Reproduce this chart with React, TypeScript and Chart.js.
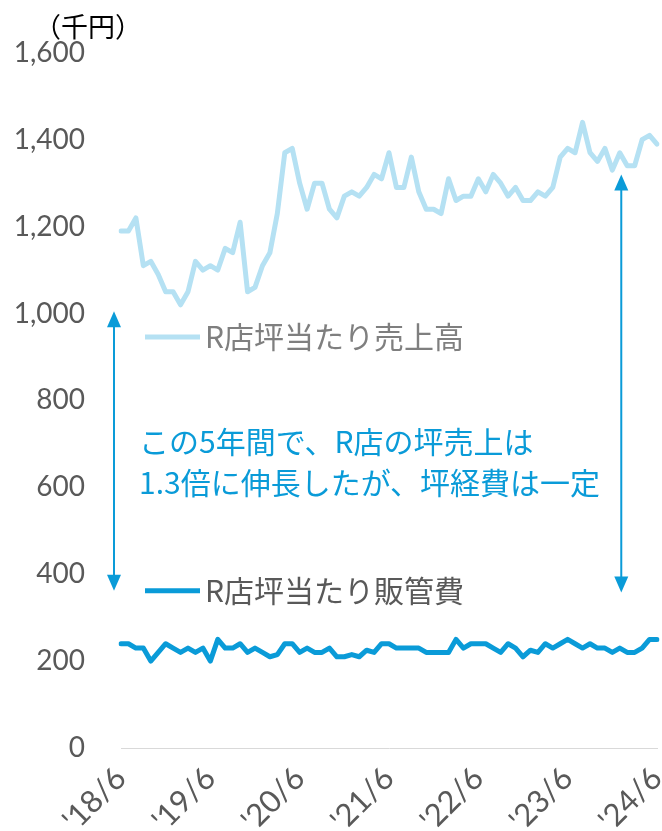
import React, { useEffect, useRef } from 'react';
import { Chart, registerables } from 'chart.js';

Chart.register(...registerables);

// Monthly categories from 2018/6 to 2024/6
const START_YEAR = 2018;
const START_MONTH = 6;
const MONTH_COUNT = 73;
const MONTHS: string[] = Array.from({ length: MONTH_COUNT }, (_, i) => {
  const m = START_MONTH - 1 + i;
  const y = START_YEAR + Math.floor(m / 12);
  return `${y}/${(m % 12) + 1}`;
});

const TICK_LABELS = ["'18/6", "'19/6", "'20/6", "'21/6", "'22/6", "'23/6", "'24/6"];
const Y_TICKS = [0, 200, 400, 600, 800, 1000, 1200, 1400, 1600];

const SALES_LABEL = 'R店坪当たり売上高';
const COST_LABEL = 'R店坪当たり販管費';

const SALES = [
  1190, 1190, 1220, 1110, 1120, 1090, 1050, 1050, 1020, 1050,
  1120, 1100, 1110, 1100, 1150, 1140, 1210, 1050, 1060, 1110,
  1140, 1230, 1370, 1380, 1300, 1240, 1300, 1300, 1240, 1220,
  1270, 1280, 1270, 1290, 1320, 1310, 1370, 1290, 1290, 1360,
  1280, 1240, 1240, 1230, 1310, 1260, 1270, 1270, 1310, 1280,
  1320, 1300, 1270, 1290, 1260, 1260, 1280, 1270, 1290, 1360,
  1380, 1370, 1440, 1370, 1350, 1380, 1330, 1370, 1340, 1340,
  1400, 1410, 1390,
];

const COSTS = [
  240, 240, 230, 230, 200, 220, 240, 230, 220, 230,
  220, 230, 200, 250, 230, 230, 240, 220, 230, 220,
  210, 215, 240, 240, 220, 230, 220, 220, 230, 210,
  210, 215, 210, 225, 220, 240, 240, 230, 230, 230,
  230, 220, 220, 220, 220, 250, 230, 240, 240, 240,
  230, 220, 240, 230, 210, 225, 220, 240, 230, 240,
  250, 240, 230, 240, 230, 230, 220, 230, 220, 220,
  230, 250, 250,
];

const UNIT_LABEL = '（千円）';
const NOTE_LINES = ['この5年間で、R店の坪売上は', '1.3倍に伸長したが、坪経費は一定'];

// arrow ranges in data values
const LEFT_ARROW = { from: 1005, to: 362 };
const RIGHT_ARROW = { index: 67.2, from: 1320, to: 358 };

const LIGHT = '#b5e1f3';
const DARK = '#0a9bd8';
const TICK_COLOR = '#595959';
const JP_FONT = '"Noto Sans CJK JP", "Noto Sans", sans-serif';
const NUM_FONT = 'Lato, "Noto Sans", sans-serif';

function drawArrow(ctx: CanvasRenderingContext2D, x: number, y1: number, y2: number) {
  const hw = 7;
  const hl = 16;
  ctx.save();
  ctx.strokeStyle = DARK;
  ctx.fillStyle = DARK;
  ctx.lineWidth = 2;
  ctx.beginPath();
  ctx.moveTo(x, y1 + hl - 1);
  ctx.lineTo(x, y2 - hl + 1);
  ctx.stroke();
  ctx.beginPath();
  ctx.moveTo(x, y1);
  ctx.lineTo(x - hw, y1 + hl);
  ctx.lineTo(x + hw, y1 + hl);
  ctx.closePath();
  ctx.fill();
  ctx.beginPath();
  ctx.moveTo(x, y2);
  ctx.lineTo(x - hw, y2 - hl);
  ctx.lineTo(x + hw, y2 - hl);
  ctx.closePath();
  ctx.fill();
  ctx.restore();
}

const overlayPlugin = {
  id: 'overlay',
  afterDatasetsDraw(chart: any) {
    const { ctx, scales } = chart;
    const xs = scales.x;
    const ys = scales.y;
    ctx.save();
    // unit label
    ctx.font = `27px ${JP_FONT}`;
    ctx.fillStyle = '#000000';
    ctx.textAlign = 'left';
    ctx.textBaseline = 'middle';
    ctx.fillText(UNIT_LABEL, 34, 27);

    // legend-like labels
    const lx0 = xs.getPixelForValue(0) + 24;
    const lx1 = lx0 + 55;
    const legends = [
      { label: SALES_LABEL, color: LIGHT, text: '#7f7f7f', y: ys.getPixelForValue(946) },
      { label: COST_LABEL, color: DARK, text: TICK_COLOR, y: ys.getPixelForValue(362) },
    ];
    legends.forEach((l) => {
      ctx.strokeStyle = l.color;
      ctx.lineWidth = 5;
      ctx.beginPath();
      ctx.moveTo(lx0, l.y);
      ctx.lineTo(lx1, l.y);
      ctx.stroke();
      ctx.font = `30px ${JP_FONT}`;
      ctx.fillStyle = l.text;
      ctx.fillText(l.label, lx1 + 5, l.y);
    });

    // note text
    ctx.font = `30px ${JP_FONT}`;
    ctx.fillStyle = DARK;
    ctx.fillText(NOTE_LINES[0], xs.getPixelForValue(0) + 18, ys.getPixelForValue(705));
    ctx.fillText(NOTE_LINES[1], xs.getPixelForValue(0) + 18, ys.getPixelForValue(610));

    // arrows
    drawArrow(ctx, xs.getPixelForValue(0) - 7, ys.getPixelForValue(LEFT_ARROW.from), ys.getPixelForValue(LEFT_ARROW.to));
    drawArrow(ctx, xs.getPixelForValue(RIGHT_ARROW.index), ys.getPixelForValue(RIGHT_ARROW.from), ys.getPixelForValue(RIGHT_ARROW.to));
    ctx.restore();
  },
};

export default function App() {
  const ref = useRef<HTMLCanvasElement | null>(null);
  useEffect(() => {
    if (!ref.current) return;
    const chart = new Chart(ref.current, {
      type: 'line',
      data: {
        labels: MONTHS,
        datasets: [
          {
            label: SALES_LABEL,
            data: SALES,
            borderColor: LIGHT,
            backgroundColor: LIGHT,
            borderWidth: 5,
            pointRadius: 0,
            tension: 0,
            borderJoinStyle: 'round',
            borderCapStyle: 'round',
          },
          {
            label: COST_LABEL,
            data: COSTS,
            borderColor: DARK,
            backgroundColor: DARK,
            borderWidth: 5,
            pointRadius: 0,
            tension: 0,
            borderJoinStyle: 'round',
            borderCapStyle: 'round',
          },
        ],
      },
      options: {
        animation: false,
        responsive: false,
        maintainAspectRatio: false,
        layout: { padding: { top: 50, right: 5, left: 0, bottom: 0 } },
        plugins: { legend: { display: false }, tooltip: { enabled: false } },
        scales: {
          x: {
            type: 'category',
            offset: false,
            grid: { display: false, drawTicks: false },
            border: { display: true, color: '#d9d9d9', width: 1 },
            ticks: {
              autoSkip: false,
              maxRotation: 45,
              minRotation: 45,
              padding: 12,
              color: TICK_COLOR,
              font: { family: NUM_FONT, size: 31 },
              callback: (_v: any, i: number) => (i % 12 === 0 ? TICK_LABELS[i / 12] : ''),
            },
            afterFit: (s: any) => {
              s.height = 83;
              s.paddingLeft = 0;
              s.paddingRight = 0;
            },
          },
          y: {
            min: 0,
            max: 1600,
            grid: { display: false, drawTicks: false },
            border: { display: false },
            afterBuildTicks: (s: any) => {
              s.ticks = Y_TICKS.map((v) => ({ value: v }));
            },
            ticks: {
              padding: 36,
              color: TICK_COLOR,
              font: { family: NUM_FONT, size: 28 },
              callback: (v: any) => Number(v).toLocaleString('en-US'),
            },
            afterFit: (s: any) => {
              s.width = 121;
            },
          },
        },
      },
      plugins: [overlayPlugin],
    });
    return () => chart.destroy();
  }, []);
  return (
    <div style={{ position: 'fixed', left: 0, top: 0, width: 662, height: 831, background: '#fff' }}>
      <canvas ref={ref} width={662} height={831} style={{ display: 'block', width: 662, height: 831 }} />
    </div>
  );
}
